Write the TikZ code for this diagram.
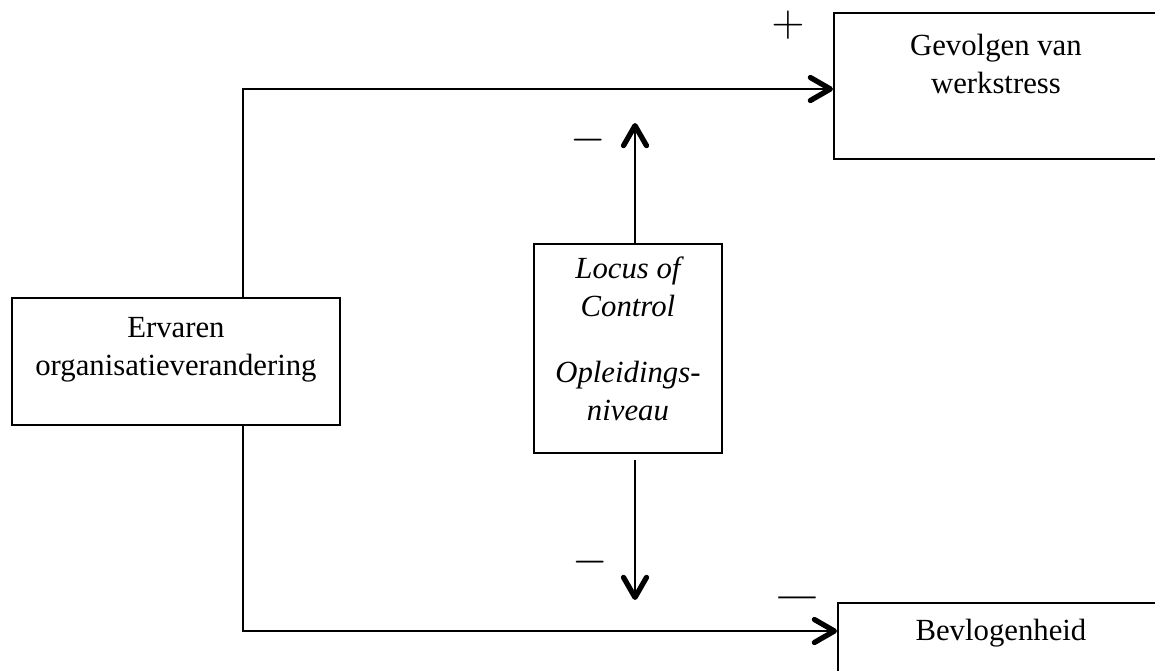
\documentclass[tikz,border=0pt]{standalone}
\usepackage{fontspec}
\setmainfont{Liberation Serif}
\usetikzlibrary{arrows.meta}
\tikzset{
  every node/.style={font=\fontsize{17.5}{21.5}\selectfont},
  vak/.style={draw, line width=1.1pt, inner sep=0pt, anchor=north west},
  pijl/.style={line width=1.1pt, -{Straight Barb[length=4mm,width=4.6mm,line width=3pt,round]}},
  teken/.style={inner sep=0pt, scale=1.5},
}
\begin{document}
\begin{tikzpicture}[x=0.02cm, y=-0.02cm]
    \path[use as bounding box, clip] (0,0) rectangle (1155,670);
    \node[vak] (ervaren) at (11,297) {\parbox[c][2.54cm][t]{6.56cm}{\centering\vspace{7.6pt}\strut Ervaren\\organisatieverandering}};
    \node[vak] (gevolgen) at (833,12) {\parbox[c][2.92cm][t]{6.48cm}{\centering\vspace{9.3pt}\strut Gevolgen van\\werkstress}};
    \node[vak] (bevlogen) at (837,602) {\parbox[c][2cm][t]{6.52cm}{\centering\vspace{6.5pt}\strut Bevlogenheid}};
    \node[vak] (moderator) at (533,243) {\parbox[c][4.18cm][t]{3.76cm}{\centering\itshape\vspace{4.8pt}\strut Locus of\\Control\\[16pt]Opleidings-\\niveau}};
    \coordinate (knikboven) at (243,89);
    \coordinate (knikonder) at (243,631);
    \coordinate (lcboven) at (635,123);
    \coordinate (lconder) at (635,600);
    \draw[pijl] (ervaren.north -| knikboven) |- (gevolgen.west |- knikboven);
    \draw[pijl] (ervaren.south -| knikonder) |- (bevlogen.west |- knikonder);
    \draw[pijl] (moderator.north -| lcboven) -- (lcboven);
    \draw[pijl, shorten <=0.12cm] (moderator.south -| lconder) -- (lconder);
    \node[teken] (plus) at (788,25) {$+$};
    \node[teken] (minboven) at (588,140) {$-$};
    \node[teken] (minonder) at (590,562) {$-$};
    \node[teken, scale=0.8] (minbevlogen) at (797,602) {\textemdash};
\end{tikzpicture}
\end{document}
